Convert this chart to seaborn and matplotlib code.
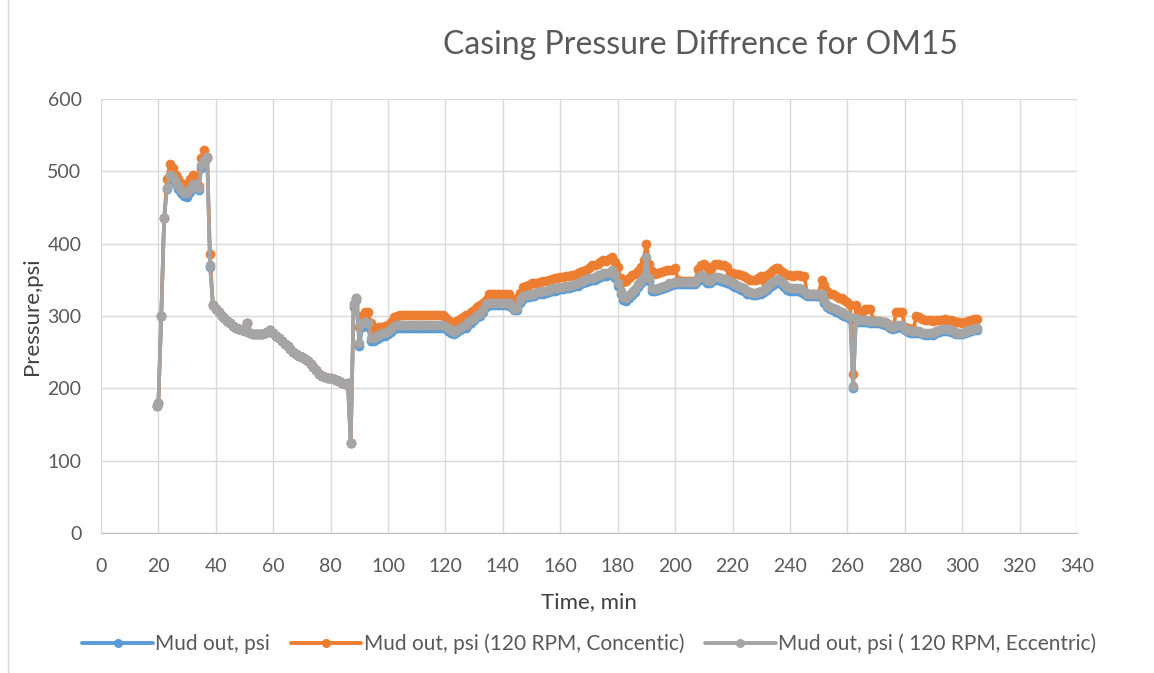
import matplotlib
matplotlib.use("Agg")
import matplotlib.pyplot as plt
import seaborn as sns
import pandas as pd
from matplotlib.lines import Line2D

# time in minutes (one reading per minute, first one at 19.5)
time_min = [19.5] + list(range(20, 306))

mud_out = [
    175, 180, 300, 435, 476, 490, 488, 482, 476, 470, 466, 465, 472, 478, 478, 474, 505, 512, 518, 368,  # 19.5-38
    315, 310, 305, 300, 297, 293, 290, 286, 283, 282, 280, 279, 290, 276, 275, 275, 275, 275, 276, 278,  # 39-58
    280, 277, 273, 270, 265, 261, 258, 254, 250, 247, 245, 243, 240, 238, 234, 230, 225, 220, 217, 215,  # 59-78
    214, 214, 213, 212, 210, 208, 206, 207, 125, 312, 322, 258, 285, 288, 285, 266, 265, 268, 270, 272,  # 79-98
    273, 275, 278, 282, 284, 284, 284, 284, 284, 284, 284, 284, 284, 284, 284, 284, 284, 284, 284, 284,  # 99-118
    284, 283, 279, 276, 275, 278, 281, 283, 284, 288, 290, 294, 298, 300, 305, 312, 315, 315, 315, 315,  # 119-138
    315, 315, 315, 315, 312, 308, 308, 318, 324, 326, 326, 327, 328, 330, 330, 331, 332, 333, 334, 335,  # 139-158
    336, 337, 337, 338, 339, 340, 341, 342, 344, 345, 347, 349, 350, 350, 352, 354, 355, 355, 357, 360,  # 159-178
    352, 342, 330, 322, 321, 325, 329, 333, 340, 345, 350, 375, 348, 334, 334, 336, 337, 338, 340, 342,  # 179-198
    343, 344, 344, 344, 344, 344, 344, 344, 344, 348, 352, 350, 346, 345, 348, 350, 350, 349, 347, 346,  # 199-218
    344, 342, 340, 338, 336, 334, 331, 330, 329, 329, 330, 331, 333, 336, 340, 343, 346, 347, 344, 340,  # 219-238
    336, 335, 335, 335, 335, 333, 330, 327, 327, 327, 327, 327, 325, 318, 312, 310, 308, 306, 304, 302,  # 239-258
    300, 298, 296, 200, 294, 292, 291, 291, 291, 290, 290, 290, 290, 289, 288, 286, 283, 282, 284, 285,  # 259-278
    284, 280, 278, 277, 277, 277, 277, 275, 274, 274, 275, 274, 276, 278, 279, 279, 279, 278, 276, 275,  # 279-298
    275, 275, 276, 278, 279, 280, 280,  # 299-305
]

mud_out_concentric = [
    175, 180, 300, 435, 490, 510, 505, 495, 490, 484, 478, 482, 490, 495, 493, 480, 518, 530, 520, 385,
    315, 310, 305, 300, 297, 293, 290, 286, 283, 282, 280, 279, 290, 276, 275, 275, 275, 275, 276, 278,
    280, 277, 273, 270, 265, 261, 258, 254, 250, 247, 245, 243, 240, 238, 234, 230, 225, 220, 217, 215,
    214, 214, 213, 212, 210, 208, 206, 207, 125, 316, 325, 285, 300, 305, 306, 290, 278, 283, 285, 285,
    286, 288, 292, 298, 300, 301, 301, 301, 301, 301, 301, 301, 301, 301, 301, 301, 301, 301, 301, 301,
    301, 298, 294, 292, 292, 293, 296, 298, 301, 302, 305, 308, 312, 315, 318, 322, 330, 330, 330, 330,
    330, 330, 330, 330, 322, 320, 325, 332, 340, 342, 343, 345, 345, 346, 347, 348, 348, 350, 351, 352,
    353, 354, 354, 355, 355, 356, 357, 359, 361, 362, 364, 367, 370, 370, 372, 374, 377, 376, 379, 382,
    375, 368, 352, 347, 348, 352, 356, 358, 362, 368, 378, 400, 372, 362, 358, 359, 361, 362, 363, 364,
    364, 366, 350, 348, 348, 348, 348, 348, 348, 365, 370, 372, 368, 362, 368, 372, 372, 371, 371, 368,
    360, 360, 358, 358, 357, 355, 352, 350, 350, 350, 352, 355, 348, 356, 360, 364, 367, 367, 362, 360,
    357, 356, 355, 356, 356, 355, 355, 330, 330, 330, 330, 330, 350, 343, 335, 330, 330, 328, 325, 325,
    322, 320, 315, 220, 315, 305, 305, 310, 310, 310, 295, 293, 293, 292, 291, 289, 286, 285, 305, 305,
    305, 285, 283, 282, 282, 300, 298, 296, 295, 295, 295, 293, 295, 295, 295, 296, 295, 294, 293, 292,
    291, 290, 291, 293, 295, 296, 296,
]

mud_out_eccentric = [
    175, 180, 300, 435, 477, 495, 492, 485, 479, 474, 470, 470, 476, 482, 482, 477, 508, 515, 520, 370,
    315, 310, 305, 300, 297, 293, 290, 286, 283, 282, 280, 279, 290, 276, 275, 275, 275, 275, 276, 278,
    280, 277, 273, 270, 265, 261, 258, 254, 250, 247, 245, 243, 240, 238, 234, 230, 225, 220, 217, 215,
    214, 214, 213, 212, 210, 208, 206, 207, 125, 316, 325, 263, 290, 292, 290, 270, 269, 272, 274, 276,
    277, 279, 282, 286, 287, 287, 287, 287, 287, 287, 287, 287, 287, 287, 287, 287, 287, 287, 287, 287,
    287, 286, 283, 280, 278, 281, 284, 286, 288, 291, 294, 297, 301, 303, 308, 316, 318, 318, 318, 318,
    318, 318, 318, 318, 315, 310, 311, 322, 328, 329, 329, 330, 331, 333, 333, 334, 335, 336, 338, 339,
    339, 340, 340, 341, 342, 343, 344, 346, 347, 349, 351, 352, 353, 354, 356, 357, 359, 359, 360, 364,
    356, 345, 334, 326, 325, 329, 333, 337, 344, 349, 354, 382, 352, 338, 337, 339, 340, 341, 343, 345,
    346, 347, 347, 347, 347, 347, 347, 347, 347, 352, 356, 354, 350, 348, 352, 354, 354, 353, 351, 350,
    348, 346, 344, 342, 340, 338, 335, 333, 332, 332, 333, 334, 336, 340, 344, 347, 350, 351, 348, 344,
    340, 339, 339, 339, 339, 337, 334, 330, 330, 330, 330, 330, 330, 322, 315, 313, 311, 309, 307, 305,
    303, 301, 299, 203, 297, 295, 294, 294, 294, 293, 293, 293, 293, 292, 291, 289, 286, 285, 287, 288,
    287, 282, 280, 279, 279, 279, 279, 277, 276, 276, 277, 276, 279, 281, 282, 282, 282, 281, 279, 277,
    277, 277, 278, 280, 281, 282, 283,
]

series_names = [
    "Mud out, psi",
    "Mud out, psi (120 RPM, Concentic)",
    "Mud out, psi ( 120 RPM, Eccentric)",
]
series_colors = ["#5B9BD5", "#ED7D31", "#A5A5A5"]
x_ticks = list(range(0, 341, 20))
y_ticks = list(range(0, 601, 100))

sns.set_style("white")
plt.rcParams["font.family"] = ["Lato", "DejaVu Sans"]

fig = plt.figure(figsize=(11.54, 6.73), dpi=100)
ax = fig.add_axes([0.0875, 0.208, 0.8458, 0.645])

all_values = [mud_out, mud_out_concentric, mud_out_eccentric]
handles = []
for name, vals, col in zip(series_names, all_values, series_colors):
    df = pd.DataFrame({"Time": time_min, "Pressure": vals})
    sns.lineplot(data=df, x="Time", y="Pressure", ax=ax, color=col, linewidth=2.6,
                 marker="o", markersize=6.5, markeredgecolor=col, markeredgewidth=0.5,
                 sort=False, estimator=None)
    handles.append(Line2D([], [], color=col, linewidth=2.8, marker="o", markersize=5.5,
                          markeredgecolor=col, label=name))

ax.set_xlim(0, 340)
ax.set_ylim(0, 600)
ax.set_xticks(x_ticks)
ax.set_yticks(y_ticks)
ax.grid(True, color="#D9D9D9", linewidth=1.0)
ax.set_axisbelow(True)
for side in ["top", "right", "left"]:
    ax.spines[side].set_visible(False)
ax.spines["bottom"].set_color("#BFBFBF")
ax.tick_params(axis="both", length=0, labelsize=14, labelcolor="#595959")
ax.tick_params(axis="x", pad=18)
ax.tick_params(axis="y", pad=14)

ax.set_xlabel("Time, min", fontsize=16, color="#404040", labelpad=12)
ax.set_ylabel("Pressure,psi", fontsize=16, color="#404040", labelpad=4)

fig.text(0.607, 0.933, "Casing Pressure Diffrence for OM15", fontsize=23,
         color="#595959", ha="center", va="center")

ax.legend(handles=handles, loc="center", bbox_to_anchor=(0.5, -0.255), ncol=3,
          frameon=False, fontsize=15, handlelength=3.4, columnspacing=1.0,
          handletextpad=0.1, labelcolor="#595959")

fig.add_artist(Line2D([0.007, 0.007], [0.0, 1.0], color="#D9D9D9", linewidth=1.0,
                      transform=fig.transFigure))

fig.savefig("out.png", dpi=100)
